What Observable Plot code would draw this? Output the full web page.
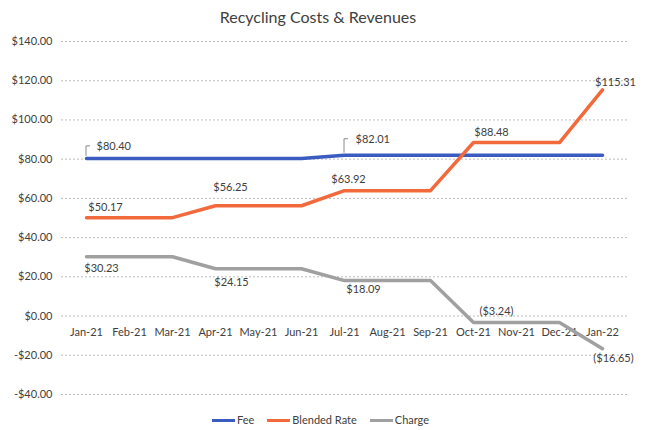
<!DOCTYPE html>
<html><head><meta charset="utf-8">
<script src="https://cdn.jsdelivr.net/npm/d3@7"></script>
<script src="https://cdn.jsdelivr.net/npm/@observablehq/plot@0.6"></script>
<style>
body{margin:0;background:#fff;font-family:Lato,"Open Sans",sans-serif;}
#wrap{position:relative;width:645px;height:430px;overflow:hidden;background:#fff;}
#title{position:absolute;top:7px;left:0;width:636px;text-align:center;font-size:16px;line-height:20px;color:#404040;}
#chart{position:absolute;top:32px;left:0;}
#legend{position:absolute;top:413px;left:212px;display:flex;align-items:center;font-size:11px;line-height:14px;color:#404040;}
.sw{display:inline-block;width:23px;height:3px;margin-right:2px;}
.item{display:flex;align-items:center;margin-right:13px;}
</style></head>
<body><div id="wrap"><div id="title">Recycling Costs &amp; Revenues</div><div id="chart"></div><div id="legend"></div></div>
<script>
const months = ["Jan-21","Feb-21","Mar-21","Apr-21","May-21","Jun-21","Jul-21","Aug-21","Sep-21","Oct-21","Nov-21","Dec-21","Jan-22"];
const seriesNames = ["Fee","Blended Rate","Charge"];
const seriesColors = ["#3a5cc0","#f26a3c","#a0a0a0"];
const fee = [80.40,80.40,80.40,80.40,80.40,80.40,82.01,82.01,82.01,82.01,82.01,82.01,82.01];
const blendedRate = [50.17,50.17,50.17,56.25,56.25,56.25,63.92,63.92,63.92,88.48,88.48,88.48,115.31];
const charge = [30.23,30.23,30.23,24.15,24.15,24.15,18.09,18.09,18.09,-3.24,-3.24,-3.24,-16.65];
const yTicks = [-40,-20,0,20,40,60,80,100,120,140];
const xAxisAt = 0;

const seriesValues = [fee, blendedRate, charge];
const rows = [];
seriesNames.forEach((s, si) => months.forEach((m, i) => rows.push({series: s, month: m, value: seriesValues[si][i], i})));
// label where the value changes
const labelRows = rows.filter(r => r.i === 0 || seriesValues[seriesNames.indexOf(r.series)][r.i - 1] !== r.value);

const labelStyle = {
  "Fee|Jan-21": {anchor: "start", dx: 10, dy: -12, leader: [12, 4]},
  "Fee|Jul-21": {anchor: "start", dx: 11, dy: -16, leader: [16, 4]},
  "Blended Rate|Jan-21": {dx: 19, dy: -10},
  "Blended Rate|Apr-21": {dx: 15, dy: -18},
  "Blended Rate|Jul-21": {dx: 4, dy: -11},
  "Blended Rate|Oct-21": {dx: 18, dy: -10},
  "Blended Rate|Jan-22": {dx: 13, dy: -7},
  "Charge|Jan-21": {dx: 15, dy: 12},
  "Charge|Apr-21": {dx: 16, dy: 14},
  "Charge|Jul-21": {dx: 19, dy: 9},
  "Charge|Oct-21": {dx: 23, dy: -11},
  "Charge|Jan-22": {dx: 11, dy: 10}
};

const money = v => v < 0 ? "($" + Math.abs(v).toFixed(2) + ")" : "$" + v.toFixed(2);
const axisMoney = v => (v < 0 ? "-" : "") + "$" + Math.abs(v).toFixed(2);

const labelMarks = [];
for (const r of labelRows) {
  const st = labelStyle[r.series + "|" + r.month] || {dx: 0, dy: -10};
  labelMarks.push(Plot.text([r], {x: "month", y: "value", text: d => money(d.value), dx: st.dx, dy: st.dy,
    textAnchor: st.anchor || "middle", fill: "#404040", fontSize: 11}));
  if (st.leader) {
    const [up, run] = st.leader;
    labelMarks.push((index, scales) => {
      const x = scales.x(r.month), y = scales.y(r.value);
      const p = document.createElementNS("http://www.w3.org/2000/svg", "path");
      p.setAttribute("d", `M${x},${y - 2}V${y - up}H${x + run}`);
      p.setAttribute("stroke", "#8a8a8a");
      p.setAttribute("fill", "none");
      p.setAttribute("stroke-width", "1");
      return p;
    });
  }
}

const chart = Plot.plot({
  width: 645,
  height: 370,
  marginTop: 9,
  marginBottom: 8,
  marginLeft: 61,
  marginRight: 18,
  style: {fontFamily: "Lato, 'Open Sans', sans-serif", fontSize: "11px", color: "#404040", background: "transparent"},
  x: {type: "point", domain: months, padding: 0.5, axis: null},
  y: {domain: [-40, 140], axis: null},
  color: {domain: seriesNames, range: seriesColors},
  marks: [
    Plot.gridY(yTicks, {stroke: "#bdbdbd", strokeOpacity: 1, strokeDasharray: "2,2"}),
    Plot.axisY(yTicks, {tickSize: 0, tickPadding: 9, tickFormat: axisMoney, fill: "#404040", fontSize: 11, label: null}),
    Plot.text(months, {x: d => d, y: () => xAxisAt, dy: 16, fill: "#404040", fontSize: 11}),
    Plot.line(rows, {x: "month", y: "value", z: "series", stroke: "series", strokeWidth: 3.5, strokeLinejoin: "round"}),
    ...labelMarks
  ]
});
document.getElementById("chart").appendChild(chart);

const legend = document.getElementById("legend");
seriesNames.forEach((s, i) => {
  const item = document.createElement("div");
  item.className = "item";
  const sw = document.createElement("span");
  sw.className = "sw";
  sw.style.background = seriesColors[i];
  const t = document.createElement("span");
  t.textContent = s;
  item.appendChild(sw); item.appendChild(t);
  legend.appendChild(item);
});
</script>
</body></html>
